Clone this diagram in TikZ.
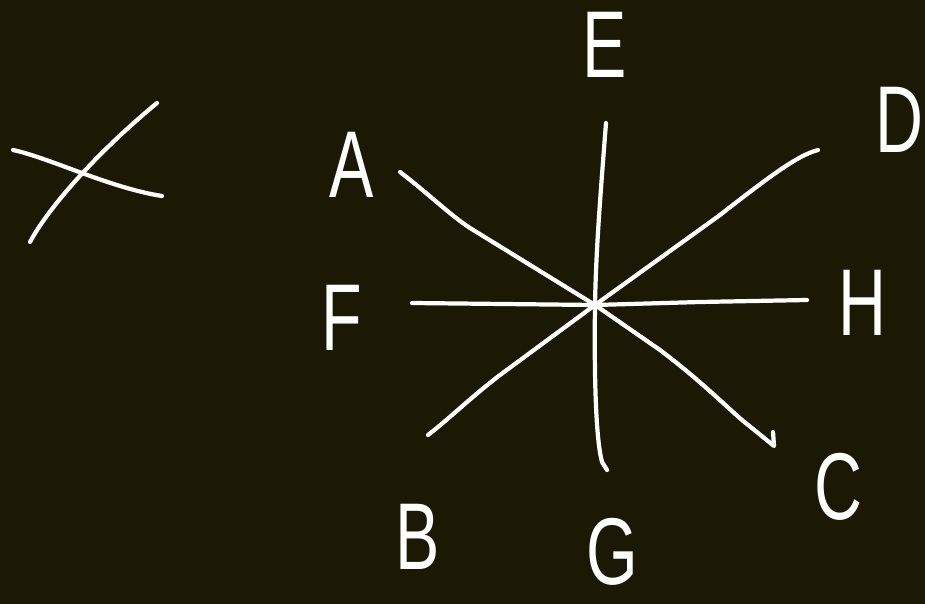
\documentclass[tikz,border=0pt]{standalone}
\usepackage{fontspec}
\setmainfont{Liberation Sans}
\usepackage{tikz}
\usetikzlibrary{calc}
\definecolor{bgdark}{HTML}{1B1904}
\tikzset{
  stroke/.style={draw=white,line width=2.4pt,line cap=round,line join=round},
  lab/.style={text=white,font=\fontsize{54}{60}\selectfont,inner sep=0pt,xscale=0.7},
}

\begin{document}
\begin{tikzpicture}[x=0.02cm,y=-0.02cm]
  \fill[bgdark] (0,0) rectangle (925,604);
  \useasboundingbox (0,0) rectangle (925,604);
  % small cross on the left
  \coordinate (xa) at (30,242);
  \coordinate (xb) at (157,103);
  \coordinate (xc) at (13,150);
  \coordinate (xd) at (162,196);
  \draw[stroke] (xa) .. controls (50,205) and (100,150) .. (xb);
  \draw[stroke] (xc) .. controls (50,158) and (110,188) .. (xd);
  % star
  \coordinate (o) at (595,305);
  \foreach \n/\p in {a/{400,172},b/{428,435},c/{776,445},d/{818,150},e/{606,123},f/{412,303},g/{607,470},h/{807,300}}
    \coordinate (\n) at (\p);
  \draw[stroke] (a) .. controls (430,195) and (450,215) .. (470,228) -- (o);
  \draw[stroke] (o) -- (500,375) .. controls (470,398) and (450,418) .. (b);
  \draw[stroke] (o) -- (660,350) .. controls (700,380) and (730,410) .. (742,420) -- (774,446) -- (773,432);
  \draw[stroke] (o) -- (720,215) .. controls (780,168) and (800,155) .. (d);
  \draw[stroke] (e) .. controls (600,200) and (596,250) .. (o);
  \draw[stroke] (o) .. controls (594,380) and (596,440) .. (602,462) -- (g);
  \draw[stroke] (f) -- (o) -- (700,302) -- (h);
  % labels
  \foreach \n/\t/\p in {la/A/{352,165},lb/B/{418,537},lc/C/{838,487},ld/D/{899,120},le/E/{605,45},lf/F/{342,318},lg/G/{612,552},lh/H/{862,303}}
    \node[lab] (\n) at (\p) {\t};
\end{tikzpicture}
\end{document}
